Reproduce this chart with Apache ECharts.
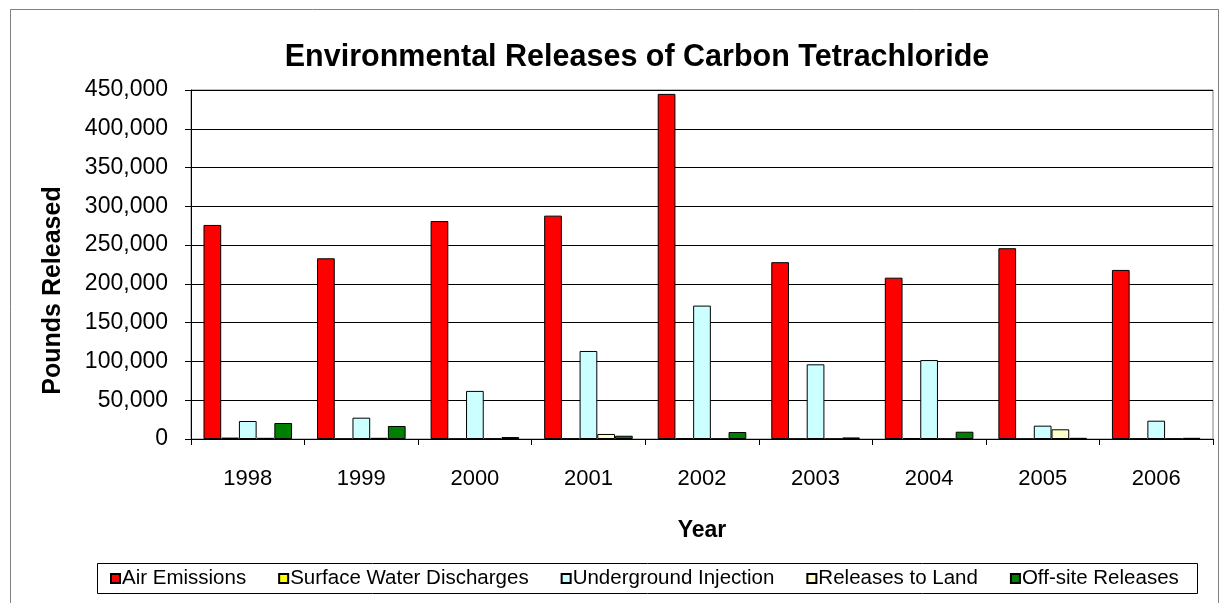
<!DOCTYPE html>
<html>
<head>
<meta charset="utf-8">
<script src="https://cdn.jsdelivr.net/npm/echarts@6/dist/echarts.min.js"></script>
<style>
  html, body { margin: 0; padding: 0; background: #fff; }
  #chart { width: 1230px; height: 603px; }
</style>
</head>
<body>
<div id="chart"></div>
<script>
// years on the x axis
const years = ["1998", "1999", "2000", "2001", "2002", "2003", "2004", "2005", "2006"];
// pounds released
const airEmissions = [276000, 233000, 281000, 288000, 445000, 228000, 208000, 246000, 218000];
const surfaceWater = [1800, 300, 300, 500, 800, 300, 1000, 300, 600];
const underground = [23200, 27500, 62000, 113500, 172000, 96300, 101800, 17200, 23600];
const releasesLand = [1500, 1500, 500, 6500, 300, 300, 300, 12500, 500];
const offSite = [20600, 16800, 2500, 4200, 9000, 2000, 9400, 1500, 1500];

const font = "Liberation Sans, Arial, sans-serif";

const chart = echarts.init(document.getElementById("chart"));

const mkSeries = (name, data, color) => ({
  name,
  type: "bar",
  data,
  barGap: "0%",
  barCategoryGap: "22%",
  itemStyle: { color, borderColor: "#000", borderWidth: 1 },
});

const options = {
  animation: false,
  textStyle: { fontFamily: font },
  title: {
    text: "Environmental Releases of Carbon Tetrachloride",
    left: 632,
    textAlign: "center",
    top: 37,
    textStyle: { fontFamily: font, fontSize: 30.5, fontWeight: "bold", color: "#000" },
  },
  graphic: [
    {
      type: "rect",
      shape: { x: 10.5, y: 9.5, width: 1208, height: 600 },
      style: { fill: "none", stroke: "#808080", lineWidth: 1 },
      silent: true,
    },
    {
      // legend frame
      type: "rect",
      shape: { x: 97.5, y: 563.5, width: 1100, height: 30 },
      style: { fill: "none", stroke: "#000", lineWidth: 1 },
      silent: true,
    },
  ],
  legend: {
    left: 110,
    top: 568,
    padding: 0,
    itemGap: 32,
    itemWidth: 9,
    itemHeight: 9,
    icon: "rect",
    textStyle: { fontFamily: font, fontSize: 20.5, color: "#000", padding: [0, 0, 0, -3] },
    data: ["Air Emissions", "Surface Water Discharges", "Underground Injection", "Releases to Land", "Off-site Releases"],
  },
  grid: {
    left: 191,
    right: 17,
    top: 90,
    bottom: 164,
    show: true,
    borderColor: "#808080",
    borderWidth: 1,
  },
  xAxis: {
    type: "category",
    data: years,
    name: "Year",
    nameLocation: "middle",
    nameGap: 80,
    nameTextStyle: { fontFamily: font, fontSize: 23, fontWeight: "bold", color: "#000" },
    axisLine: { lineStyle: { color: "#000", width: 1 } },
    axisTick: { show: true, length: 6, lineStyle: { color: "#000" } },
    axisLabel: { color: "#000", fontSize: 22, fontFamily: font, margin: 29 },
  },
  yAxis: {
    type: "value",
    min: 0,
    max: 450000,
    interval: 50000,
    name: "Pounds Released",
    nameLocation: "middle",
    nameGap: 125,
    nameTextStyle: { fontFamily: font, fontSize: 25, fontWeight: "bold", color: "#000", padding: [0, 52, 0, 0] },
    axisLine: { show: true, lineStyle: { color: "#000", width: 1 } },
    axisTick: { show: true, length: 6, lineStyle: { color: "#000" } },
    splitLine: { lineStyle: { color: "#000", width: 1 } },
    axisLabel: {
      color: "#000",
      fontSize: 23,
      fontFamily: font,
      margin: 23,
      formatter: (v) => v.toLocaleString("en-US"),
    },
  },
  series: [
    mkSeries("Air Emissions", airEmissions, "#FF0000"),
    mkSeries("Surface Water Discharges", surfaceWater, "#FFFF00"),
    mkSeries("Underground Injection", underground, "#CCFFFF"),
    mkSeries("Releases to Land", releasesLand, "#FFFFCC"),
    mkSeries("Off-site Releases", offSite, "#008000"),
  ],
};

chart.setOption(options);
</script>
</body>
</html>
